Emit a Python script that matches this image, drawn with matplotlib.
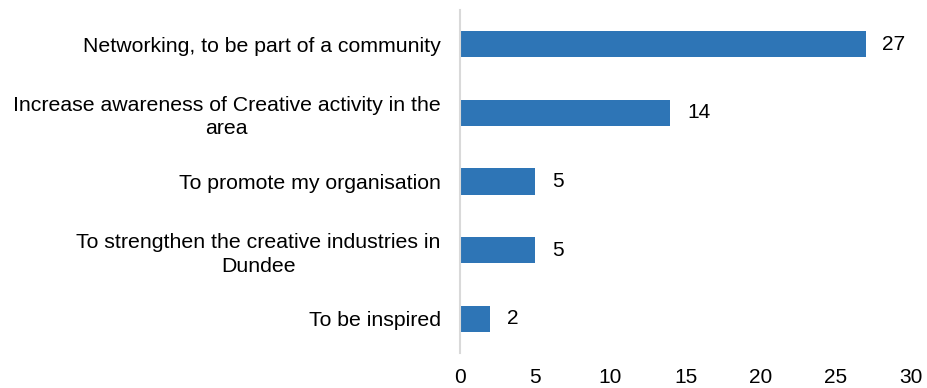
import matplotlib.pyplot as plt
import numpy as np

plt.rcParams["font.family"] = ["Liberation Sans", "DejaVu Sans"]

reasons = [
    "Networking, to be part of a community",
    "Increase awareness of Creative activity in the\narea",
    "To promote my organisation",
    "To strengthen the creative industries in\nDundee",
    "To be inspired",
]
counts = [27, 14, 5, 5, 2]
x_ticks = [0, 5, 10, 15, 20, 25, 30]

fig = plt.figure(figsize=(9.28, 3.88), dpi=100)
ax = fig.add_axes([0.4957, 0.0902, 0.486, 0.884])

y = np.arange(len(reasons))
ax.barh(y, counts, height=0.38, color="#2E75B6")
for yi, v in zip(y, counts):
    ax.text(v + 1.1, yi, str(v), va="center", ha="left", fontsize=15, color="black")

ax.set_yticks(y)
ax.set_yticklabels(reasons, fontsize=15.3, ha="right",
                   multialignment="center", linespacing=1.3)
ax.set_ylim(len(reasons) - 0.5, -0.5)
ax.set_xlim(0, 30)
ax.set_xticks(x_ticks)
ax.tick_params(axis="x", labelsize=15, length=0, pad=11)
ax.tick_params(axis="y", length=0, pad=14)

for side in ["top", "right", "bottom"]:
    ax.spines[side].set_visible(False)
ax.spines["left"].set_color("#D9D9D9")
ax.spines["left"].set_linewidth(1.5)

fig.savefig("out.png", dpi=100)
